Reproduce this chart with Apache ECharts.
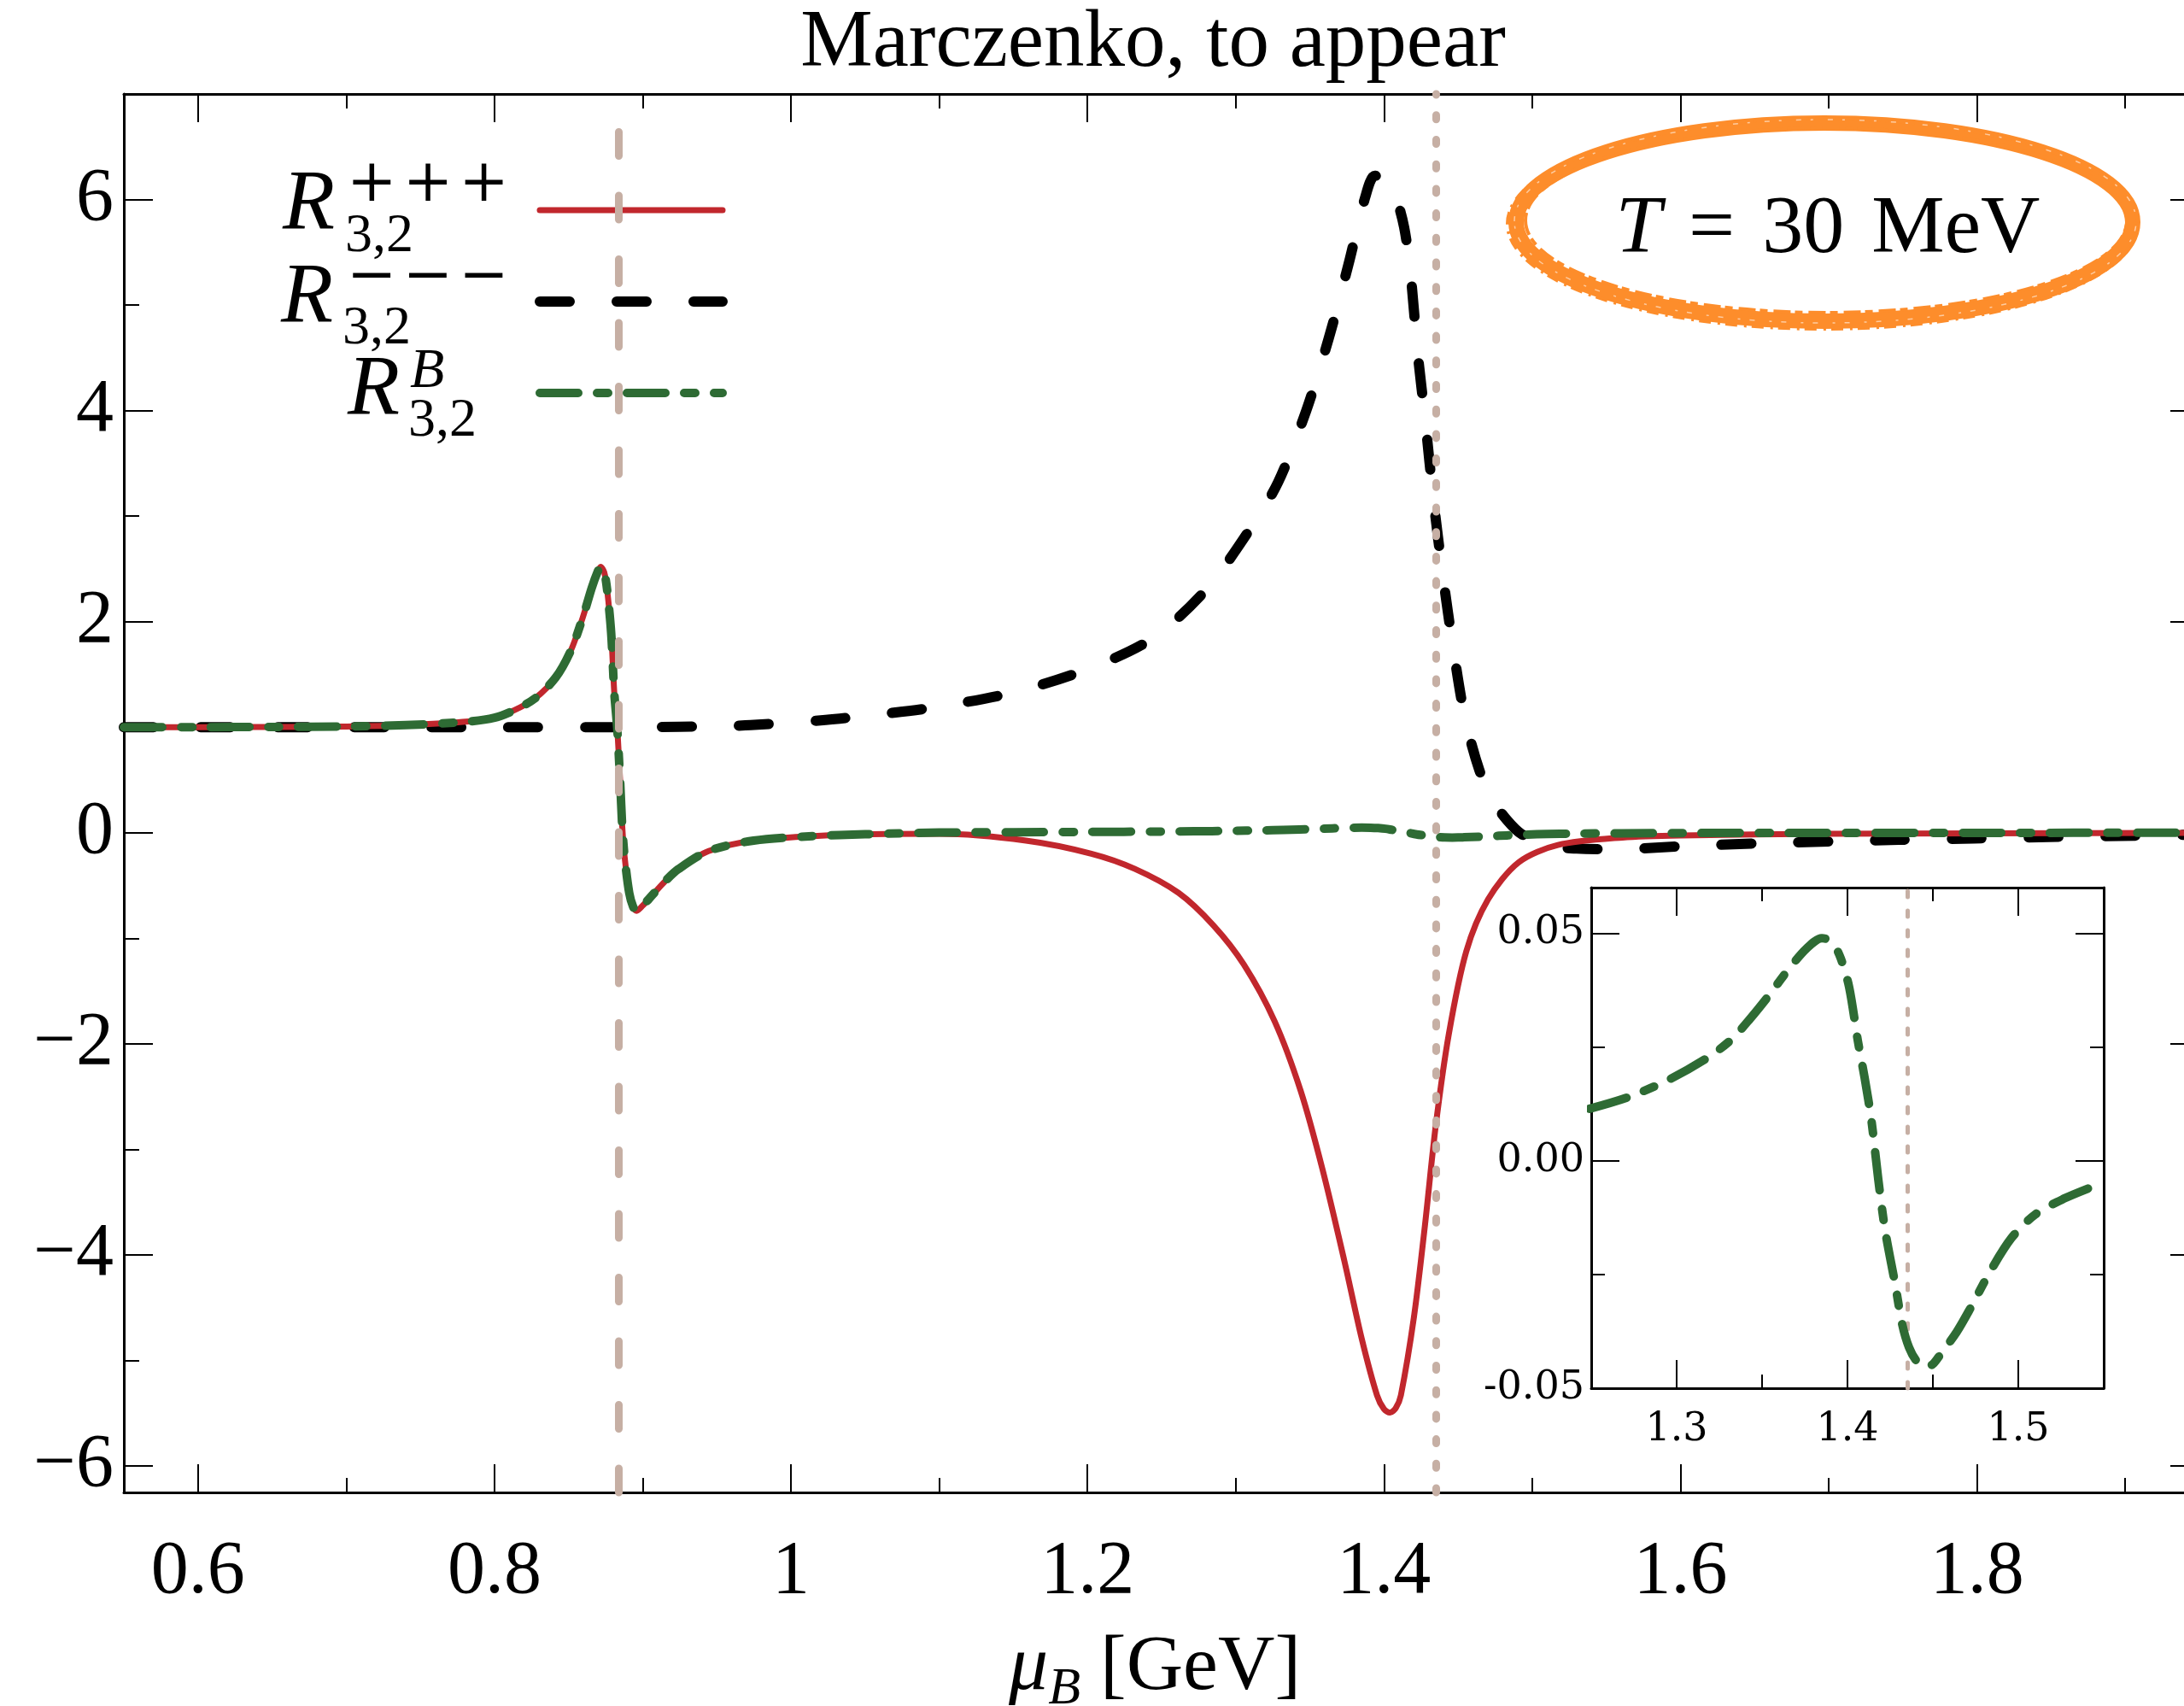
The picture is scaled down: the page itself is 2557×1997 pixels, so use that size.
<!DOCTYPE html>
<html>
<head>
<meta charset="utf-8">
<title>R_{3,2} ratios vs baryon chemical potential</title>
<script src="https://cdn.jsdelivr.net/npm/echarts@6/dist/echarts.min.js"></script>
<style>
  html, body { margin: 0; padding: 0; background: #fff; }
  #chart { width: 2557px; height: 1997px; }
</style>
</head>
<body>
<div id="chart"></div>
<script>
// ---- data: baryon chemical potential mu_B [GeV] and cumulant ratios ----
// Common branch of R^{+++} and R^B (identical below ~1.05 GeV)
const muShared = [0.55, 0.60, 0.65, 0.70, 0.74, 0.7827, 0.80, 0.813, 0.8272, 0.8413, 0.8515, 0.8595,
  0.8656, 0.8695, 0.8716, 0.8740, 0.8760, 0.8787, 0.8808, 0.8828, 0.8848, 0.8862, 0.8878, 0.8909,
  0.8935, 0.8959, 0.9000, 0.906, 0.915, 0.9242, 0.9444, 0.9748, 1.0152, 1.05];
const rShared = [1.000, 1.001, 1.003, 1.007, 1.02, 1.054, 1.09, 1.159, 1.272, 1.471, 1.726, 2.037,
  2.32, 2.47, 2.52, 2.47, 2.30, 1.896, 1.329, 0.99, 0.479, 0.054, -0.23, -0.57,
  -0.70, -0.739, -0.69, -0.598, -0.46, -0.343, -0.173, -0.074, -0.031, -0.014];

// R^{+++}_{3,2} beyond 1.05 GeV
const muRedTail = [1.10, 1.1585, 1.2026, 1.232, 1.2614, 1.285, 1.3055, 1.3262, 1.3438, 1.3585,
  1.3732, 1.385, 1.3953, 1.400, 1.4041, 1.408, 1.4114, 1.4202, 1.4276, 1.4349, 1.4437, 1.4555,
  1.4702, 1.4908, 1.5173, 1.5608, 1.60, 1.70, 1.80, 1.95];
const rPlusTail = [-0.010, -0.074, -0.198, -0.342, -0.569, -0.878, -1.249, -1.785, -2.445, -3.187,
  -4.052, -4.794, -5.33, -5.46, -5.494, -5.45, -5.33, -4.589, -3.723, -2.776, -1.91, -1.124,
  -0.631, -0.28, -0.116, -0.045, -0.025, -0.010, -0.005, -0.002];

// R^{---}_{3,2}
const muMinus = [0.55, 0.70, 0.80, 0.90, 0.95, 0.9728, 1.0233, 1.0556, 1.096, 1.15, 1.20, 1.2438,
  1.2801, 1.3111, 1.3287, 1.3475, 1.3629, 1.3761, 1.3872, 1.3938, 1.400, 1.407, 1.4136, 1.4181,
  1.4225, 1.428, 1.4335, 1.4401, 1.4467, 1.4545, 1.4644, 1.4732, 1.483, 1.493, 1.5128, 1.53,
  1.5544, 1.6018, 1.6523, 1.7057, 1.7472, 1.7977, 1.8481, 1.8837, 1.95];
const rMinus = [1.0, 1.0, 1.0, 1.002, 1.01, 1.02, 1.069, 1.116, 1.187, 1.33, 1.55, 1.842,
  2.305, 2.908, 3.325, 3.998, 4.693, 5.389, 6.015, 6.224, 6.22, 6.062, 5.737, 5.273,
  4.578, 3.882, 3.14, 2.398, 1.749, 1.099, 0.59, 0.311, 0.12, -0.014, -0.125, -0.15,
  -0.156, -0.127, -0.100, -0.081, -0.067, -0.054, -0.040, -0.032, -0.017];

// R^B_{3,2}: middle part, zoomed window (inset) and tail
const muBMid = [1.10, 1.15, 1.20];
const rBMid = [0.002, 0.005, 0.008];
const muInset = [1.249, 1.272, 1.296, 1.318, 1.332, 1.343, 1.354, 1.365, 1.376, 1.385, 1.391, 1.396,
  1.401, 1.406, 1.410, 1.414, 1.418, 1.422, 1.428, 1.432, 1.436, 1.441, 1.446, 1.450, 1.454,
  1.464, 1.472, 1.483, 1.496, 1.51, 1.527, 1.543];
const rBInset = [0.0114, 0.014, 0.0179, 0.0226, 0.0266, 0.0312, 0.0363, 0.0418, 0.0466, 0.0489, 0.0480, 0.0445,
  0.0381, 0.0265, 0.0183, 0.0089, -0.004, -0.0152, -0.0273, -0.0359, -0.041, -0.0443, -0.0453, -0.0447, -0.0428,
  -0.0376, -0.0324, -0.0247, -0.017, -0.0118, -0.0083, -0.0058];
const muBTail = [1.56, 1.60, 1.70, 1.80, 1.95];
const rBTail = [-0.0045, -0.0025, -0.001, -0.0005, -0.0002];

// vertical guides (transition locations)
const muGuideDashed = 0.884;
const muGuideDotted = 1.435;

// tick positions
const xMajor = [0.6, 0.8, 1.0, 1.2, 1.4, 1.6, 1.8];
const xMinor = [0.7, 0.9, 1.1, 1.3, 1.5, 1.7, 1.9];
const yMajor = [-6, -4, -2, 0, 2, 4, 6];
const yMinor = [-5, -3, -1, 1, 3, 5];
const insetXMajor = [1.3, 1.4, 1.5];
const insetXMinor = [1.35, 1.45];
const insetYMajor = [-0.05, 0, 0.05];
const insetYMinor = [-0.025, 0.025];

// ---- helpers ----
const zip = (xs, ys) => xs.map((x, i) => [x, ys[i]]);
const SERIF = 'Liberation Serif';
const RED = '#C1272D', GREEN = '#2E6B34', GUIDE = '#C6AFA4', ORANGE = '#FD8D2B';

const frameLine = { show: true, onZero: false, lineStyle: { color: '#000', width: 3 } };
const ticks = (values, len) => ({ show: true, inside: true, length: len, customValues: values,
  lineStyle: { color: '#000', width: 2 } });
function axis(o) {
  return Object.assign({ type: 'value', splitLine: { show: false },
    axisLine: { show: false, onZero: false }, axisTick: { show: false },
    axisLabel: { show: false } }, o);
}
const fmtX = v => String(Math.round(v * 10) / 10);
const fmtY = v => v < 0 ? '\u2212' + Math.abs(v) : String(v);

const X0 = 0.55, X1 = 1.95, Y0 = -6.25, Y1 = 7;
const IX0 = 1.25, IX1 = 1.55, IY0 = -0.05, IY1 = 0.06;

const xAxes = [
  axis({ gridIndex: 0, position: 'bottom', min: X0, max: X1, axisLine: frameLine, axisTick: ticks(xMajor, 33),
    axisLabel: { show: true, customValues: xMajor, margin: 50, fontSize: 88, fontFamily: SERIF,
      color: '#000', formatter: fmtX },
    name: '{m|\u03bc}{s|B}{n| [GeV]}', nameLocation: 'middle', nameGap: 150,
    nameTextStyle: { color: '#000', fontFamily: SERIF, padding: [0, 16, 0, 0], rich: {
      m: { fontFamily: SERIF, fontStyle: 'italic', fontSize: 92, lineHeight: 100, color: '#000' },
      s: { fontFamily: SERIF, fontStyle: 'italic', fontSize: 62, lineHeight: 112, verticalAlign: 'bottom', color: '#000' },
      n: { fontFamily: SERIF, fontSize: 92, lineHeight: 100, color: '#000' } } } }),
  axis({ gridIndex: 0, position: 'bottom', min: X0, max: X1, axisTick: ticks(xMinor, 17) }),
  axis({ gridIndex: 0, position: 'top', min: X0, max: X1, axisLine: frameLine, axisTick: ticks(xMajor, 33) }),
  axis({ gridIndex: 0, position: 'top', min: X0, max: X1, axisTick: ticks(xMinor, 17) }),
  axis({ gridIndex: 1, position: 'bottom', min: IX0, max: IX1, axisLine: frameLine, axisTick: ticks(insetXMajor, 33),
    axisLabel: { show: true, customValues: insetXMajor, margin: 26, fontSize: 46, fontFamily: 'DejaVu Serif',
      color: '#000', formatter: v => v.toFixed(1) } }),
  axis({ gridIndex: 1, position: 'bottom', min: IX0, max: IX1, axisTick: ticks(insetXMinor, 16) }),
  axis({ gridIndex: 1, position: 'top', min: IX0, max: IX1, axisLine: frameLine, axisTick: ticks(insetXMajor, 33) }),
  axis({ gridIndex: 1, position: 'top', min: IX0, max: IX1, axisTick: ticks(insetXMinor, 16) })
];
const yAxes = [
  axis({ gridIndex: 0, position: 'left', min: Y0, max: Y1, axisLine: frameLine, axisTick: ticks(yMajor, 34),
    axisLabel: { show: true, customValues: yMajor, margin: 12, fontSize: 88, fontFamily: SERIF,
      color: '#000', formatter: fmtY } }),
  axis({ gridIndex: 0, position: 'left', min: Y0, max: Y1, axisTick: ticks(yMinor, 18) }),
  axis({ gridIndex: 0, position: 'right', min: Y0, max: Y1, axisLine: frameLine, axisTick: ticks(yMajor, 34) }),
  axis({ gridIndex: 0, position: 'right', min: Y0, max: Y1, axisTick: ticks(yMinor, 18) }),
  axis({ gridIndex: 1, position: 'left', min: IY0, max: IY1, axisLine: frameLine, axisTick: ticks(insetYMajor, 33),
    axisLabel: { show: true, customValues: insetYMajor, margin: 8, fontSize: 46, fontFamily: 'DejaVu Serif',
      color: '#000', formatter: v => v.toFixed(2) } }),
  axis({ gridIndex: 1, position: 'left', min: IY0, max: IY1, axisTick: ticks(insetYMinor, 16) }),
  axis({ gridIndex: 1, position: 'right', min: IY0, max: IY1, axisLine: frameLine, axisTick: ticks(insetYMajor, 33) }),
  axis({ gridIndex: 1, position: 'right', min: IY0, max: IY1, axisTick: ticks(insetYMinor, 16) })
];

const dashDot = [45, 22, 13, 22];

const series = [
  {
    name: 'R---', type: 'line', xAxisIndex: 0, yAxisIndex: 0, z: 2,
    data: zip(muMinus, rMinus), symbol: 'none', smooth: 0.3,
    lineStyle: { color: '#000', width: 12, type: [35, 55], cap: 'round', join: 'round' },
    markLine: {
      silent: true, symbol: ['none', 'none'], label: { show: false }, animation: false, precision: 4,
      data: [
        { xAxis: muGuideDashed, lineStyle: { color: GUIDE, width: 9, type: [28, 46.5], cap: 'round' } },
        { xAxis: muGuideDotted, lineStyle: { color: GUIDE, width: 9, type: [5, 23.7], cap: 'round' } }
      ]
    }
  },
  {
    name: 'R+++', type: 'line', xAxisIndex: 0, yAxisIndex: 0, z: 3,
    data: zip(muShared.concat(muRedTail), rShared.concat(rPlusTail)), symbol: 'none', smooth: 0.3,
    lineStyle: { color: RED, width: 7, cap: 'round', join: 'round' }
  },
  {
    name: 'RB', type: 'line', xAxisIndex: 0, yAxisIndex: 0, z: 4,
    data: zip(muShared.concat(muBMid, muInset, muBTail), rShared.concat(rBMid, rBInset, rBTail)),
    symbol: 'none', smooth: 0.3,
    lineStyle: { color: GREEN, width: 10, type: dashDot, cap: 'round', join: 'round' }
  },
  {
    name: 'RB window', type: 'line', xAxisIndex: 4, yAxisIndex: 4, z: 12,
    data: zip(muInset, rBInset), symbol: 'none', smooth: 0.3,
    lineStyle: { color: GREEN, width: 10, type: dashDot, cap: 'round', join: 'round' },
    markLine: {
      silent: true, symbol: ['none', 'none'], label: { show: false }, animation: false, precision: 4,
      data: [ { xAxis: muGuideDotted, lineStyle: { color: GUIDE, width: 5, type: [7, 16], cap: 'round' } } ]
    }
  }
];

// math-style legend labels: R with stacked superscript / subscript
function mathLabel(xR, baseR, sup, xSup, ySup, supStyle, xSub, baseSub) {
  return [
    { type: 'text', x: xR, y: baseR - 0.32 * 100, silent: true,
      style: { text: 'R', fontFamily: SERIF, fontStyle: 'italic', fontSize: 100, fill: '#000', align: 'left', verticalAlign: 'middle' } },
    { type: 'text', x: xSup, y: ySup, silent: true,
      style: Object.assign({ text: sup, fill: '#000', align: 'left', verticalAlign: 'middle' }, supStyle) },
    { type: 'text', x: xSub, y: baseSub - 0.32 * 64, silent: true,
      style: { text: '3,2', fontFamily: SERIF, fontSize: 64, fill: '#000', align: 'left', verticalAlign: 'middle' } }
  ];
}
const opStyle = { fontFamily: 'DejaVu Serif', fontSize: 70 };

const graphic = [
  { type: 'text', x: 1350, y: 82 - 0.32 * 95, silent: true,
    style: { text: 'Marczenko, to appear', fontFamily: SERIF, fontSize: 95, fill: '#000', align: 'center', verticalAlign: 'middle' } },
  ...mathLabel(331, 273, '+\u200a+\u200a+', 406, 217, opStyle, 404, 298),
  ...mathLabel(329, 382, '\u2212\u200a\u2212\u200a\u2212', 406, 326, opStyle, 401, 406),
  ...mathLabel(407, 490, 'B', 480, 457 - 0.32 * 66, { fontFamily: SERIF, fontStyle: 'italic', fontSize: 66 }, 478, 514),
  // temperature badge
  { type: 'ellipse', silent: true, shape: { cx: 2136, cy: 260, rx: 361, ry: 116 },
    style: { fill: 'none', stroke: ORANGE, lineWidth: 18 } },
  { type: 'ellipse', silent: true, shape: { cx: 2134, cy: 262, rx: 369, ry: 123 },
    style: { fill: 'none', stroke: ORANGE, lineWidth: 4, lineDash: [14, 6, 3, 8] } },
  { type: 'ellipse', silent: true, shape: { cx: 2138, cy: 258, rx: 352, ry: 108 },
    style: { fill: 'none', stroke: ORANGE, lineWidth: 4, lineDash: [9, 5, 20, 7] } },
  { type: 'ellipse', silent: true, shape: { cx: 2137, cy: 259, rx: 364, ry: 119 },
    style: { fill: 'none', stroke: '#fff', lineWidth: 1.5, opacity: 0.55, lineDash: [6, 11, 3, 17] } },
  { type: 'text', x: 2140, y: 270, silent: true,
    style: { text: '{i|T}{n|\u2004=\u200430\u2004MeV}', align: 'center', verticalAlign: 'middle',
      rich: { i: { fontFamily: SERIF, fontStyle: 'italic', fontSize: 96, fill: '#000' },
              n: { fontFamily: SERIF, fontSize: 96, fill: '#000' } } } }
];

const chart = echarts.init(document.getElementById('chart'), null, { renderer: 'canvas' });
chart.setOption({
  animation: false,
  backgroundColor: '#fff',
  grid: [
    { left: 145, top: 110, width: 2430, height: 1637, outerBoundsMode: 'none', containLabel: false },
    { left: 1863, top: 1039, width: 600, height: 586, outerBoundsMode: 'none', show: true,
      backgroundColor: '#fff', borderWidth: 0 }
  ],
  xAxis: xAxes,
  yAxis: yAxes,
  legend: {
    data: ['R+++', 'R---', 'RB'], orient: 'vertical', left: 621, top: 231,
    itemWidth: 214, itemHeight: 20, itemGap: 89, selectedMode: false,
    formatter: () => '', textStyle: { fontSize: 10 }, itemStyle: { opacity: 0 },
    lineStyle: { width: 'inherit', type: 'inherit', cap: 'inherit' }
  },
  series: series,
  graphic: graphic
});
</script>
</body>
</html>
